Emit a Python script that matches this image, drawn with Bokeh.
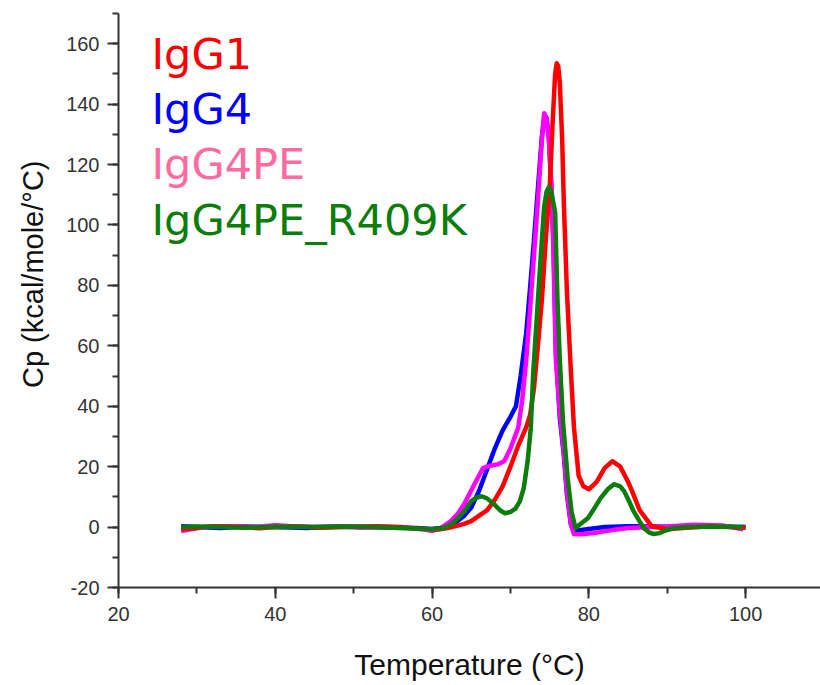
from bokeh.plotting import figure
from bokeh.models import Range1d, SingleIntervalTicker, ColumnDataSource, NumeralTickFormatter, Title
from bokeh.core.properties import value
from bokeh.embed import file_html
from bokeh.resources import INLINE

# ---- data (temperature in degC, Cp in kcal/mole/degC)
igg1_t = [28, 30, 32, 35, 38, 40, 43, 46, 50, 53, 56, 58,
          60, 61, 62, 63, 64, 65, 66, 67, 68, 69, 70, 71, 72,
          72.5, 73, 73.5, 74, 74.5, 75, 75.4, 75.7, 75.9,
          76.1, 76.3, 76.6, 76.8, 77.2, 77.7, 78.1, 78.7, 79.3, 80,
          81, 82, 83, 84, 85, 85.5, 86.5, 88, 90, 92, 95, 98, 100]
igg1_cp = [-0.8, -0.2, 0.3, 0.1, -0.4, 0, 0.2, -0.2, 0.1, 0.3, 0, -0.5,
           -0.8, -0.7, -0.3, 0.3, 1, 2, 3.8, 5.5, 9, 13.5, 20, 27, 33,
           37, 46, 60, 75, 95, 112, 135, 150, 153.5,
           152.5, 147, 128, 108, 78, 52, 33, 17, 13.5, 12.5,
           15, 19.5, 21.8, 20, 15, 12, 5.5, 0.3, -0.7, -0.3, 0.2, 0, -0.2]

igg4_t = [28, 30, 33, 36, 40, 44, 48, 52, 55, 58,
          60, 61, 62, 63, 64, 65, 66, 67, 68, 69, 70,
          70.7, 71.3, 72, 72.5, 73, 73.5, 74, 74.3, 74.6, 74.9,
          75.2, 75.5, 75.8, 76.3, 76.8, 77.2, 77.7, 78.1, 79, 80.5,
          82, 85, 88, 91, 95, 100]
igg4_cp = [0.3, 0, -0.3, 0.2, 0, -0.3, 0.2, 0, -0.2, -0.3,
           -0.6, -0.3, 0.3, 1.5, 3.5, 6.5, 12, 19, 26, 32, 36.5,
           40, 50, 64, 79, 95, 112, 129, 135.5, 135.5, 129,
           113, 93, 58, 36, 24, 11, 1, -1.3, -1, -0.5,
           0, 0.3, 0.2, 0, 0.2, 0]

igg4pe_t = [28, 29, 31, 34, 37, 40, 42, 45, 48, 51, 54, 57, 59,
            60, 61, 62.4, 63.3, 64.1, 65.4, 66.5, 67.1, 68.4, 69.2,
            70, 71, 71.5, 72, 72.5, 73, 73.5, 74, 74.3, 74.6,
            74.9, 75.3, 75.8, 76.3, 76.8, 77.2, 77.7, 78.1, 79, 80.6,
            83, 85, 88, 90, 93.4, 97, 99.7]
igg4pe_cp = [-1.3, -0.8, 0, 0.3, 0, 0.6, 0.3, 0, 0.2, -0.2, 0, -0.3, -0.8,
             -1.2, -0.6, 2, 4.5, 7.6, 14.2, 19.5, 20.1, 20.8, 21.8,
             26, 33, 42, 55, 72, 90, 108, 128, 137, 135.5,
             128, 110, 55, 38, 25, 12, 1, -2.3, -2.4, -2,
             -1, -0.3, 0, 0.2, 0.8, 0.5, -0.7]

r409k_t = [28, 30, 33, 36, 40, 44, 48, 52, 55, 58,
           59.9, 61.5, 62.5, 63.3, 64.2, 65, 65.7, 66.3, 67, 67.9,
           68.7, 69.3, 70, 70.6, 71.2, 71.7, 72.2, 72.6, 72.9, 73.5,
           74, 74.3, 74.6, 74.9, 75.2, 75.5, 75.7, 76, 76.3, 76.7,
           77.3, 77.8, 78.3, 79, 79.9, 80.7, 81.5, 82.4, 83.2, 84,
           84.5, 85.1, 85.7, 86.4, 87, 87.7, 88.3, 89, 89.6, 90.8,
           93, 96, 99.7]
r409k_cp = [0, 0.2, 0, -0.2, 0.1, 0, 0.2, 0, -0.2, -0.5,
            -0.7, -0.3, 1, 3, 5.5, 8.6, 9.8, 10.2, 9.5, 7.6,
            5.5, 4.6, 5, 6, 8.5, 13, 22, 33, 51, 75,
            95, 106, 111, 112.6, 111, 107, 104, 75, 55, 35,
            16, 5, -0.3, 1.2, 3, 6.2, 9.6, 12.5, 14.2, 13.5,
            11.9, 8.7, 5.3, 2.2, -0.3, -1.8, -2.3, -2, -1.3, -0.3,
            0, 0.2, 0]

legend_names = ["IgG1", "IgG4", "IgG4PE", "IgG4PE_R409K"]
legend_colors = ["#ff0000", "#0000ff", "#ff6aa0", "#0a7d0a"]
x_ticks_interval = 20
y_ticks_interval = 20
x_title = "Temperature (°C)"
y_title = "Cp (kcal/mole/°C)"

# ---- figure
p = figure(width=820, height=685, output_backend="svg", toolbar_location=None,
           x_range=Range1d(20, 109.55), y_range=Range1d(-20, 170),
           min_border_left=117, min_border_right=0, min_border_top=13,
           min_border_bottom=98)
p.outline_line_color = None
p.grid.visible = False
p.background_fill_color = "white"
p.border_fill_color = "white"

# curves (drawing order: blue, magenta, red, green)
lw = 4.5
p.line(igg4_t, igg4_cp, line_color="#0000ff", line_width=lw, line_join="round")
p.line(igg4pe_t, igg4pe_cp, line_color="#ff00ff", line_width=lw, line_join="round")
p.line(igg1_t, igg1_cp, line_color="#ff0000", line_width=lw, line_join="round")
p.line(r409k_t, r409k_cp, line_color="#0a7d0a", line_width=lw, line_join="round")

# in-plot legend text
legend_x = [24.2, 24.2, 24.2, 24.2]
legend_y = [156.7, 138.4, 120.1, 101.8]
src = ColumnDataSource(dict(x=legend_x, y=legend_y, t=legend_names, c=legend_colors))
p.text(x="x", y="y", text="t", text_color="c", source=src,
       text_font=value("DejaVu Sans"), text_font_size="43px",
       text_baseline="alphabetic", text_align="left")

# axes
for ax in (p.xaxis[0], p.yaxis[0]):
    ax.axis_line_color = "#333333"
    ax.axis_line_width = 2
    ax.major_tick_line_color = "#333333"
    ax.minor_tick_line_color = "#333333"
    ax.major_tick_line_width = 2
    ax.minor_tick_line_width = 2
    ax.major_tick_out = 11
    ax.major_tick_in = 0
    ax.minor_tick_out = 6
    ax.minor_tick_in = 0
    ax.major_label_text_font = "Liberation Sans"
    ax.major_label_text_font_size = "20px"
    ax.major_label_text_color = "#333333"
    ax.major_label_standoff = 8
    ax.axis_label_text_font = "Liberation Sans"
    ax.axis_label_text_font_size = "30px"
    ax.axis_label_text_font_style = "normal"
    ax.axis_label_text_color = "#111111"
    ax.formatter = NumeralTickFormatter(format="0")

p.xaxis.ticker = SingleIntervalTicker(interval=x_ticks_interval, num_minor_ticks=2)
p.yaxis.ticker = SingleIntervalTicker(interval=y_ticks_interval, num_minor_ticks=2)
p.xaxis.axis_label = x_title
p.xaxis.axis_label_standoff = 24

# y title as a side title, its upper end placed as in the reference
ytitle = Title(text=y_title, align="right", offset=147, standoff=29,
               text_font="Liberation Sans", text_font_size="29px",
               text_font_style="normal", text_color="#111111")
p.add_layout(ytitle, "left")

open("out.html", "w").write(file_html(p, INLINE))
